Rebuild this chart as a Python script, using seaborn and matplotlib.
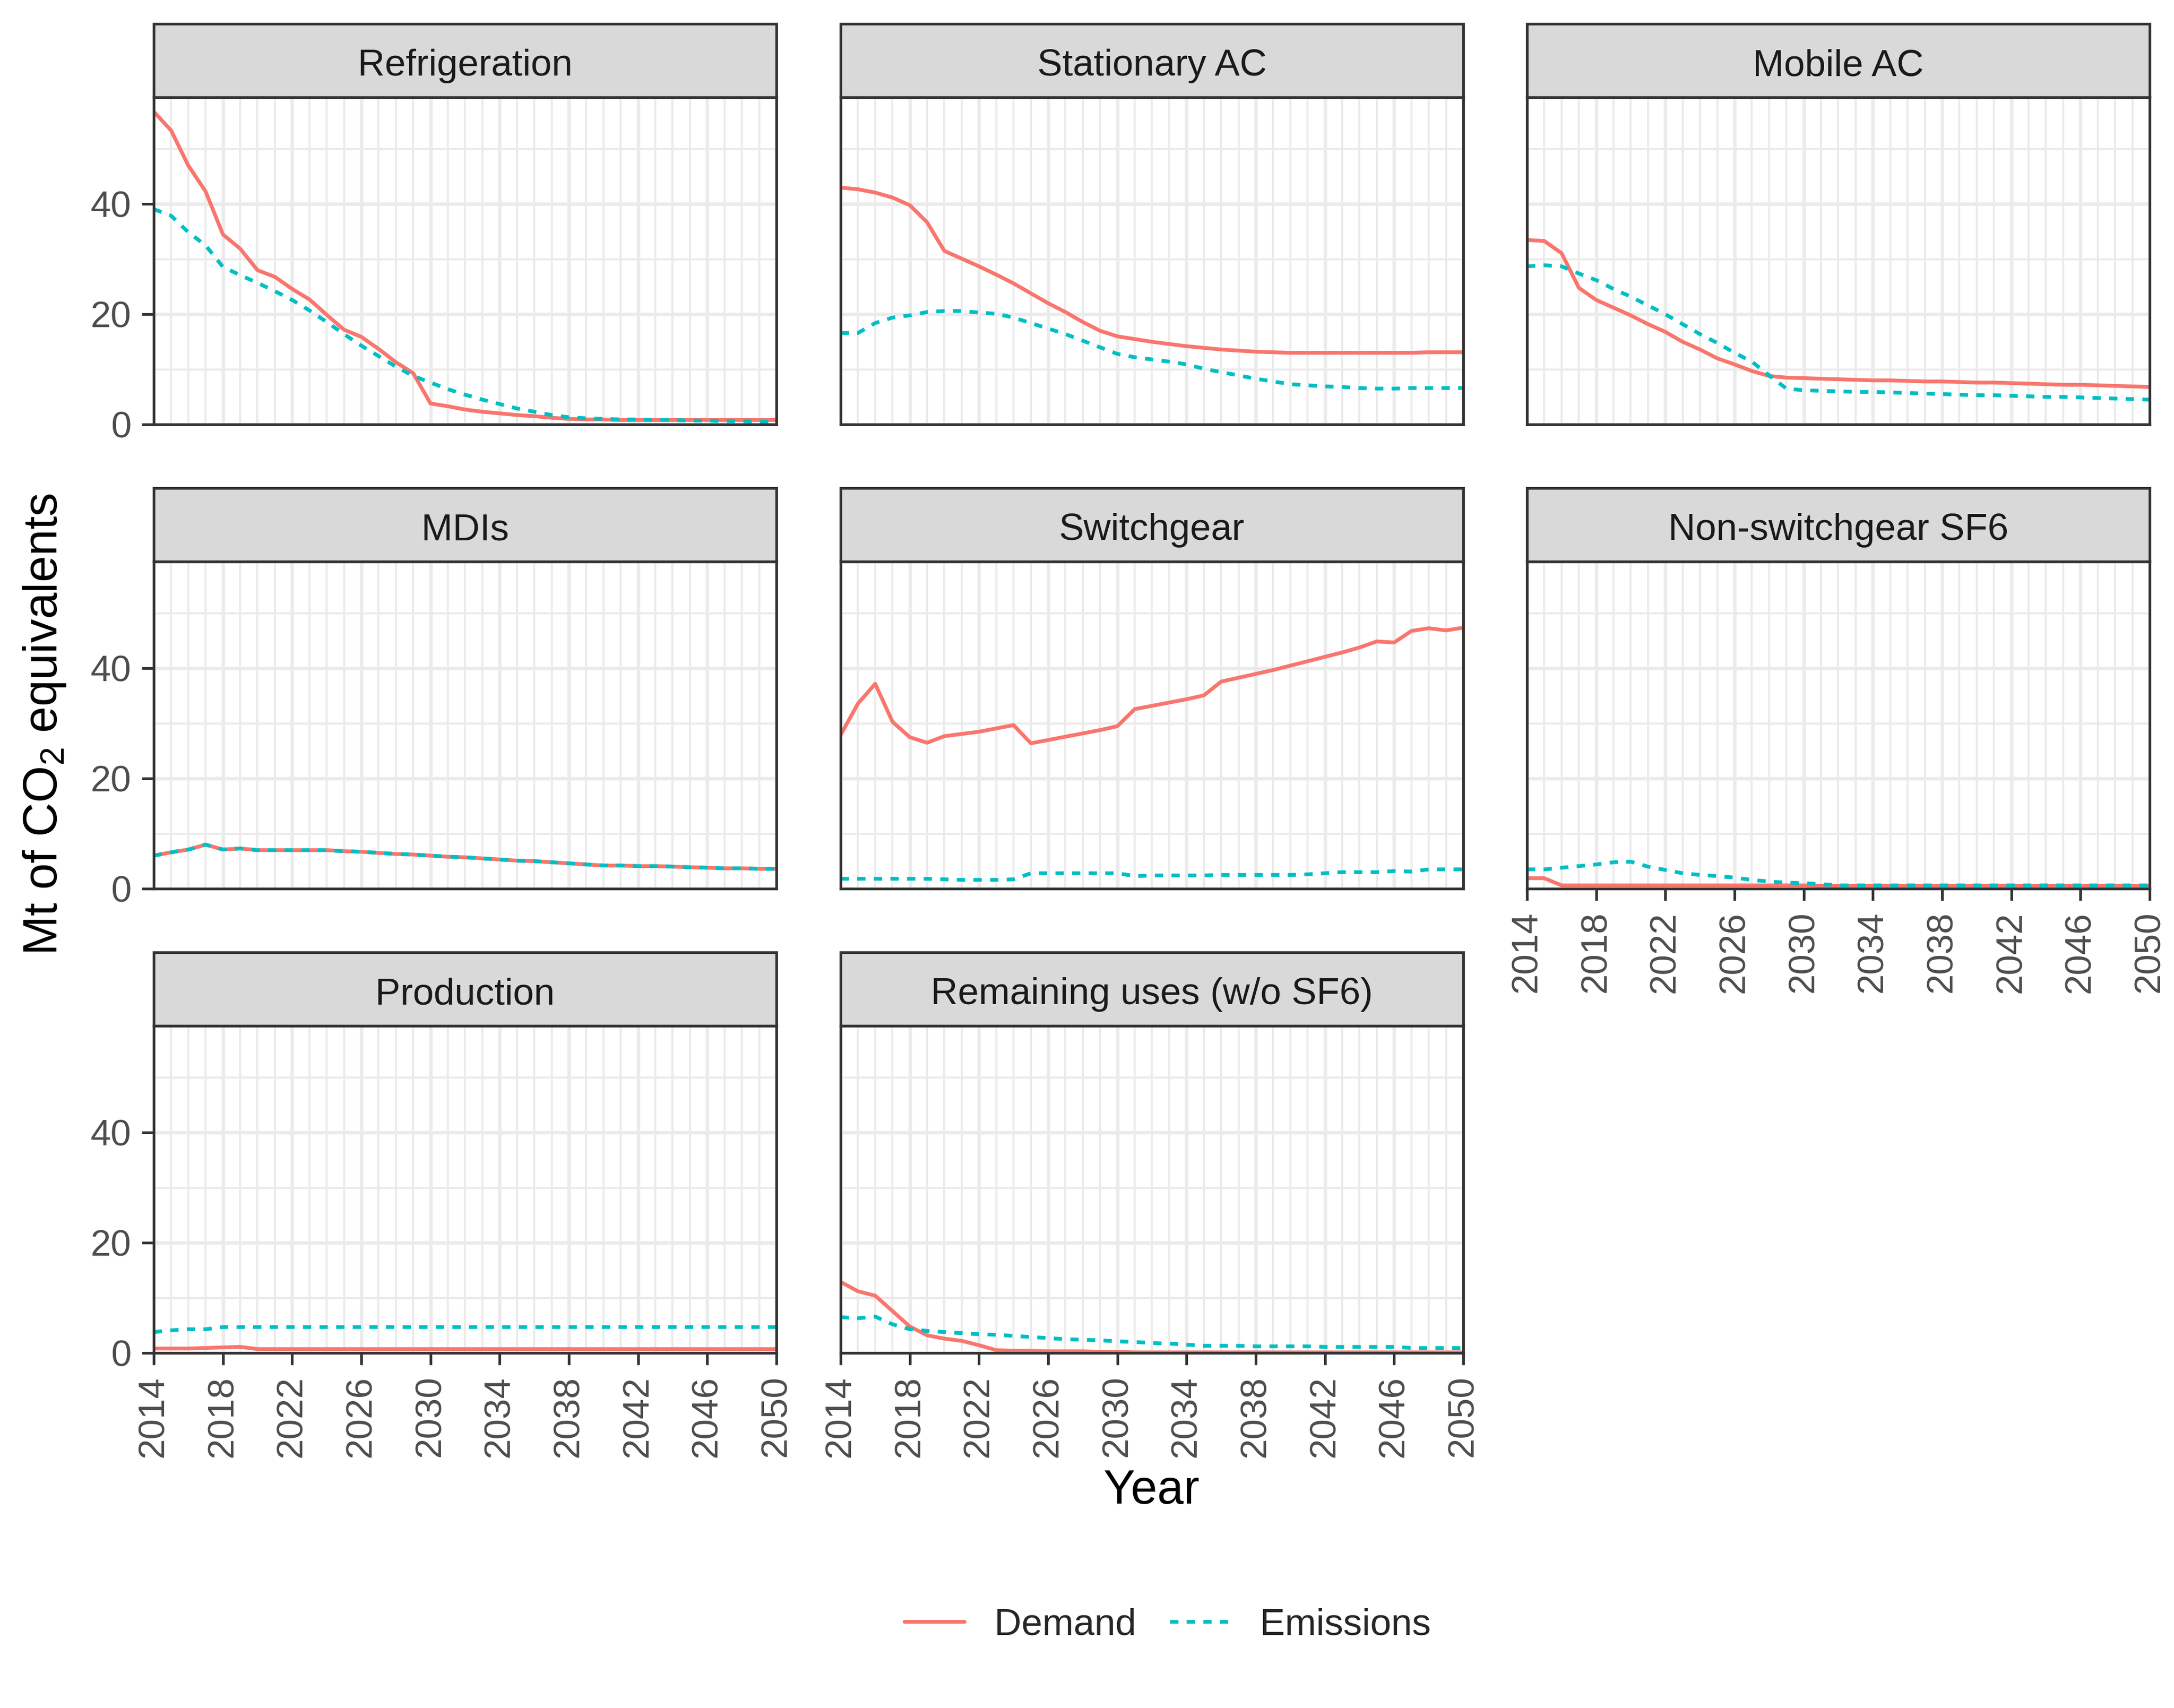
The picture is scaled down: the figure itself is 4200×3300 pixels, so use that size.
import matplotlib
matplotlib.use('Agg')
import numpy as np
import pandas as pd
import matplotlib.pyplot as plt
import seaborn as sns
from matplotlib.patches import Rectangle
from matplotlib.lines import Line2D

years = list(range(2014, 2051))
sectors = ['Refrigeration', 'Stationary AC', 'Mobile AC', 'MDIs', 'Switchgear',
           'Non-switchgear SF6', 'Production', 'Remaining uses (w/o SF6)']

refr_demand = [56.8, 53.4, 47.0, 42.3, 34.5, 31.9, 28.0, 26.8, 24.6, 22.7, 19.9, 17.2, 15.9, 13.7,
               11.3, 9.3, 3.8, 3.3, 2.7, 2.3, 2.0, 1.7, 1.5, 1.2, 1.0, 0.9, 0.9,
               0.8, 0.8, 0.8, 0.8, 0.8, 0.8, 0.8, 0.8, 0.8, 0.8]
refr_emis = [39.1, 37.9, 34.9, 32.5, 28.6, 27.1, 25.7, 24.2, 22.6, 20.7, 18.6, 16.4, 14.3, 12.4,
             10.5, 8.8, 7.6, 6.4, 5.4, 4.5, 3.7, 2.9, 2.3, 1.7, 1.3, 1.1, 1.0,
             0.9, 0.9, 0.8, 0.8, 0.7, 0.7, 0.6, 0.6, 0.5, 0.5]
stat_demand = [43.0, 42.7, 42.1, 41.2, 39.8, 36.7, 31.5, 30.1, 28.7, 27.2, 25.6, 23.8, 22.0, 20.4,
               18.6, 17.0, 16.0, 15.5, 15.0, 14.6, 14.2, 13.9, 13.6, 13.4, 13.2, 13.1, 13.0,
               13.0, 13.0, 13.0, 13.0, 13.0, 13.0, 13.0, 13.1, 13.1, 13.1]
stat_emis = [16.6, 16.6, 18.4, 19.4, 19.8, 20.4, 20.6, 20.6, 20.3, 20.1, 19.4, 18.4, 17.4, 16.4,
             15.2, 14.0, 12.8, 12.2, 11.8, 11.4, 10.9, 10.1, 9.5, 8.9, 8.3, 7.8, 7.3,
             7.1, 6.9, 6.8, 6.6, 6.5, 6.5, 6.6, 6.6, 6.6, 6.6]
mob_demand = [33.5, 33.3, 31.1, 24.8, 22.6, 21.2, 19.8, 18.2, 16.8, 15.0, 13.6, 12.0, 10.9, 9.7,
              8.8, 8.5, 8.4, 8.3, 8.2, 8.1, 8.0, 8.0, 7.9, 7.8, 7.8, 7.7, 7.6,
              7.6, 7.5, 7.4, 7.3, 7.2, 7.2, 7.1, 7.0, 6.9, 6.8]
mob_emis = [28.7, 28.9, 28.7, 27.4, 26.2, 24.6, 23.2, 21.6, 20.0, 18.2, 16.4, 14.8, 13.0, 11.4,
            8.9, 6.5, 6.2, 6.1, 6.0, 5.9, 5.9, 5.8, 5.7, 5.6, 5.5, 5.4, 5.3,
            5.3, 5.2, 5.1, 5.0, 5.0, 4.9, 4.8, 4.7, 4.6, 4.5]
mdi_demand = [6.0, 6.6, 7.1, 8.0, 7.1, 7.3, 7.0, 7.0, 7.0, 7.0, 7.0, 6.8, 6.7, 6.5,
              6.3, 6.2, 6.0, 5.8, 5.7, 5.5, 5.3, 5.1, 5.0, 4.8, 4.6, 4.4, 4.2,
              4.2, 4.1, 4.1, 4.0, 3.9, 3.8, 3.7, 3.7, 3.6, 3.6]
mdi_emis = [6.0, 6.6, 7.1, 8.0, 7.1, 7.3, 7.0, 7.0, 7.0, 7.0, 7.0, 6.8, 6.7, 6.5,
            6.3, 6.2, 6.0, 5.8, 5.7, 5.5, 5.3, 5.1, 5.0, 4.8, 4.6, 4.4, 4.2,
            4.2, 4.1, 4.1, 4.0, 3.9, 3.8, 3.7, 3.7, 3.6, 3.6]
swg_demand = [27.9, 33.6, 37.2, 30.3, 27.5, 26.5, 27.7, 28.1, 28.5, 29.1, 29.7, 26.4, 27.0, 27.6,
              28.2, 28.8, 29.5, 32.6, 33.2, 33.8, 34.4, 35.1, 37.6, 38.3, 39.0, 39.7, 40.5,
              41.3, 42.1, 42.9, 43.8, 44.9, 44.7, 46.8, 47.3, 46.9, 47.4]
swg_emis = [1.8, 1.8, 1.8, 1.8, 1.8, 1.8, 1.7, 1.6, 1.6, 1.6, 1.7, 2.8, 2.8, 2.8,
            2.8, 2.8, 2.8, 2.3, 2.4, 2.4, 2.4, 2.4, 2.5, 2.5, 2.5, 2.5, 2.5,
            2.6, 2.8, 3.0, 3.0, 3.0, 3.2, 3.1, 3.5, 3.5, 3.5]
nsf6_demand = [1.9, 1.9, 0.6, 0.6, 0.6, 0.6, 0.6, 0.6, 0.6, 0.6, 0.6, 0.6, 0.6, 0.6,
               0.6, 0.6, 0.6, 0.5, 0.5, 0.5, 0.5, 0.5, 0.5, 0.5, 0.5, 0.5, 0.5,
               0.5, 0.5, 0.5, 0.5, 0.5, 0.5, 0.5, 0.5, 0.5, 0.5]
nsf6_emis = [3.5, 3.5, 3.8, 4.1, 4.4, 4.8, 4.9, 4.0, 3.4, 2.8, 2.5, 2.3, 2.0, 1.6,
             1.3, 1.1, 1.0, 0.8, 0.6, 0.6, 0.6, 0.6, 0.6, 0.6, 0.6, 0.6, 0.6,
             0.6, 0.6, 0.6, 0.6, 0.6, 0.6, 0.6, 0.6, 0.6, 0.6]
prod_demand = [0.8, 0.8, 0.8, 0.9, 1.0, 1.1, 0.7, 0.7, 0.7, 0.7, 0.7, 0.7, 0.7, 0.7,
               0.7, 0.7, 0.7, 0.7, 0.7, 0.7, 0.7, 0.7, 0.7, 0.7, 0.7, 0.7, 0.7,
               0.7, 0.7, 0.7, 0.7, 0.7, 0.7, 0.7, 0.7, 0.7, 0.7]
prod_emis = [3.8, 4.1, 4.3, 4.3, 4.7, 4.7, 4.7, 4.7, 4.7, 4.7, 4.7, 4.7, 4.7, 4.7,
             4.7, 4.7, 4.7, 4.7, 4.7, 4.7, 4.7, 4.7, 4.7, 4.7, 4.7, 4.7, 4.7,
             4.7, 4.7, 4.7, 4.7, 4.7, 4.7, 4.7, 4.7, 4.7, 4.7]
rem_demand = [12.9, 11.2, 10.4, 7.6, 4.8, 3.2, 2.6, 2.2, 1.4, 0.5, 0.4, 0.4, 0.3, 0.3,
              0.3, 0.2, 0.2, 0.1, 0.1, 0.1, 0.1, 0.1, 0.1, 0.1, 0.1, 0.1, 0.1,
              0.1, 0.1, 0.1, 0.1, 0.1, 0.1, 0.1, 0.1, 0.1, 0.1]
rem_emis = [6.5, 6.3, 6.6, 5.2, 4.3, 4.0, 3.8, 3.6, 3.4, 3.3, 3.1, 2.9, 2.7, 2.5,
            2.4, 2.3, 2.1, 2.0, 1.8, 1.7, 1.5, 1.3, 1.3, 1.3, 1.2, 1.2, 1.2,
            1.2, 1.1, 1.1, 1.1, 1.1, 1.1, 0.9, 0.9, 0.9, 0.9]

series = {
    'Refrigeration': (refr_demand, refr_emis),
    'Stationary AC': (stat_demand, stat_emis),
    'Mobile AC': (mob_demand, mob_emis),
    'MDIs': (mdi_demand, mdi_emis),
    'Switchgear': (swg_demand, swg_emis),
    'Non-switchgear SF6': (nsf6_demand, nsf6_emis),
    'Production': (prod_demand, prod_emis),
    'Remaining uses (w/o SF6)': (rem_demand, rem_emis),
}

rows = []
for s in sectors:
    d, e = series[s]
    for y, v in zip(years, d):
        rows.append((s, y, 'Demand', v))
    for y, v in zip(years, e):
        rows.append((s, y, 'Emissions', v))
df = pd.DataFrame(rows, columns=['Sector', 'Year', 'Type', 'Value'])

sns.set_style('white')
plt.rcParams['font.family'] = ['Liberation Sans', 'DejaVu Sans']
plt.rcParams['mathtext.fontset'] = 'custom'
plt.rcParams['mathtext.rm'] = 'Liberation Sans'
plt.rcParams['mathtext.it'] = 'Liberation Sans:italic'

red = '#F8766D'
teal = '#00BFC4'
lw = 1.75
dots = (2.2, 2.2)

g = sns.relplot(data=df, x='Year', y='Value', hue='Type', style='Type', col='Sector',
                col_order=sectors, col_wrap=3, kind='line', hue_order=['Demand', 'Emissions'],
                palette={'Demand': red, 'Emissions': teal},
                dashes={'Demand': '', 'Emissions': dots},
                linewidth=lw, legend=False, facet_kws=dict(sharex=True, sharey=True))
fig = g.figure
fig.set_size_inches(14, 11)

W, H = 4200.0, 3300.0
col_left = [297, 1624, 2950]
pw = 1203
row_top = [188, 1085, 1982]
ph = 632
strip_h = 142

for i, ax in enumerate(g.axes.flat):
    r, c = divmod(i, 3)
    ax.set_position([col_left[c] / W, 1 - (row_top[r] + ph) / H, pw / W, ph / H])
    ax.set_xlim(2014, 2050)
    ax.set_ylim(0, 59.4)
    ax.set_xticks(range(2014, 2051, 4))
    ax.set_xticks(range(2014, 2051), minor=True)
    ax.set_yticks([0, 20, 40])
    ax.set_yticks([10, 30, 50], minor=True)
    ax.grid(which='major', color='#EBEBEB', linewidth=1.6)
    ax.grid(which='minor', color='#EBEBEB', linewidth=0.95)
    ax.set_axisbelow(True)
    for sp in ax.spines.values():
        sp.set_visible(True)
        sp.set_color('#333333')
        sp.set_linewidth(1.25)
    ax.tick_params(which='major', length=5.5, width=1.25, color='#333333',
                   labelcolor='#4D4D4D', labelsize=17, pad=5)
    ax.tick_params(which='minor', length=0)
    ax.set_title('')
    ax.set_xlabel('')
    ax.set_ylabel('')
    left_col = (c == 0)
    bottom = (i >= 5)
    ax.tick_params(axis='y', left=left_col, labelleft=left_col)
    ax.tick_params(axis='x', bottom=bottom, labelbottom=bottom, labelrotation=90)
    if bottom:
        ax.set_xticklabels([str(y) for y in range(2014, 2051, 4)], rotation=90, va='top', ha='center')
    # strip on top of the panel
    sh = strip_h / ph
    ax.add_patch(Rectangle((0, 1), 1, sh, transform=ax.transAxes, clip_on=False,
                           facecolor='#D9D9D9', edgecolor='#333333', linewidth=1.25))
    ax.text(0.5, 1 + sh / 2 - 0.046, sectors[i], transform=ax.transAxes, ha='center',
            va='baseline', fontsize=17.4, color='#1A1A1A')

fig.text(86 / W, 0.576, 'Mt of CO$_2$ equivalents', rotation=90, ha='center', va='center',
         fontsize=22, color='black')
fig.text(2225 / W, 0.127, 'Year', ha='center', va='center', fontsize=22, color='black')

handles = [Line2D([], [], color=red, linewidth=lw),
           Line2D([], [], color=teal, linewidth=lw, dashes=dots)]
fig.legend(handles, ['Demand', 'Emissions'], loc='center', bbox_to_anchor=(0.537, 0.0485),
           ncol=2, frameon=False, fontsize=17.4, handlelength=1.6, handletextpad=0.8,
           columnspacing=0.9)

fig.savefig('out.png', dpi=300, facecolor='white')
